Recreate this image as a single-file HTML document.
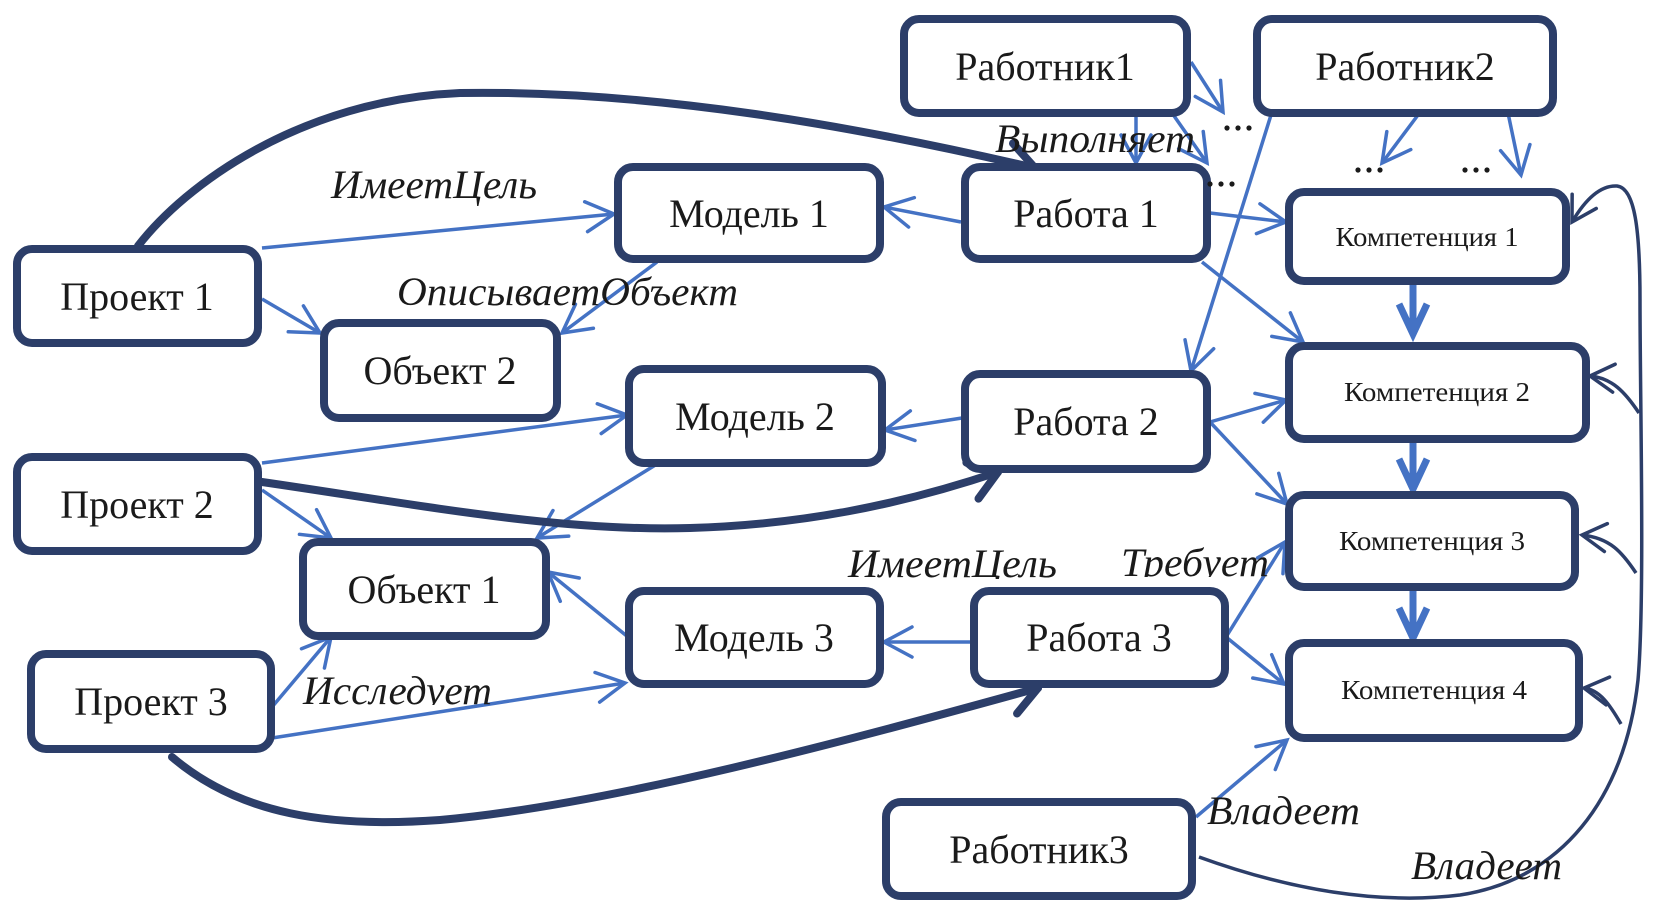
<!DOCTYPE html>
<html><head><meta charset="utf-8">
<style>
html,body{margin:0;padding:0;background:#fff;}
svg{display:block;}
.bx{fill:#fff;stroke:#2C3E69;stroke-width:8;}
.t{font-family:"Liberation Serif","DejaVu Serif",serif;font-size:40px;fill:#1a1a1a;text-anchor:middle;}
.k{font-family:"Liberation Serif","DejaVu Serif",serif;font-size:27px;fill:#1a1a1a;text-anchor:middle;}
.i{font-family:"Liberation Serif","DejaVu Serif",serif;font-style:italic;font-size:40px;fill:#1a1a1a;}
.bl{stroke:#4472C4;stroke-width:3.5;fill:none;marker-end:url(#mb);}
.nv{stroke:#2C3E69;stroke-width:8;fill:none;stroke-linecap:round;marker-end:url(#mn);}
.tb{stroke:#4472C4;stroke-width:7;fill:none;marker-end:url(#mt);}
.tn{stroke:#2C3E69;stroke-width:3;fill:none;}
.tna{stroke:#2C3E69;stroke-width:3.5;fill:none;marker-end:url(#ms);}
</style></head>
<body>
<svg width="1659" height="912" viewBox="0 0 1659 912" xmlns="http://www.w3.org/2000/svg">
<defs>
<marker id="mb" markerUnits="userSpaceOnUse" viewBox="-40 -20 44 40" markerWidth="44" markerHeight="40" refX="0" refY="0" orient="auto" overflow="visible">
<path d="M-28,-15 L0,0 L-28,15" fill="none" stroke="#4472C4" stroke-width="3.5" stroke-linecap="round"/>
</marker>
<marker id="mn" markerUnits="userSpaceOnUse" viewBox="-40 -25 44 50" markerWidth="44" markerHeight="50" refX="0" refY="0" orient="auto" overflow="visible">
<path d="M-27,-19 L0,0 L-27,19" fill="none" stroke="#2C3E69" stroke-width="8" stroke-linecap="round" stroke-linejoin="round"/>
</marker>
<marker id="mt" markerUnits="userSpaceOnUse" viewBox="-40 -25 44 50" markerWidth="44" markerHeight="50" refX="0" refY="0" orient="auto" overflow="visible">
<path d="M-30,-14 L0,0 L-30,14" fill="none" stroke="#4472C4" stroke-width="7" stroke-linejoin="miter"/>
</marker>
<marker id="ms" markerUnits="userSpaceOnUse" viewBox="-40 -25 44 50" markerWidth="44" markerHeight="50" refX="0" refY="0" orient="auto" overflow="visible">
<path d="M-24,-14 L0,0 L-24,14" fill="none" stroke="#2C3E69" stroke-width="3.5" stroke-linecap="round"/>
</marker>
<clipPath id="c1"><rect x="1100" y="530" width="200" height="47"/></clipPath>
<clipPath id="c2"><rect x="290" y="655" width="230" height="50"/></clipPath>
<clipPath id="c3"><rect x="830" y="530" width="260" height="49"/></clipPath>
</defs>

<!-- thin blue connectors -->
<line class="bl" x1="262" y1="248" x2="614" y2="214"/>
<line class="bl" x1="262" y1="299" x2="320" y2="333"/>
<line class="bl" x1="657" y1="262" x2="562" y2="333"/>
<line class="bl" x1="961" y1="222" x2="884" y2="207"/>
<line class="bl" x1="1136" y1="115" x2="1136" y2="163"/>
<line class="bl" x1="1191" y1="62" x2="1223" y2="112"/>
<line class="bl" x1="1172" y1="113" x2="1207" y2="163"/>
<line class="bl" x1="1418" y1="115" x2="1382" y2="163"/>
<line class="bl" x1="1508" y1="113" x2="1521" y2="175"/>
<line class="bl" x1="1271" y1="115" x2="1191" y2="371"/>
<line class="bl" x1="1210" y1="213" x2="1286" y2="222"/>
<line class="bl" x1="1202" y1="262" x2="1303" y2="342"/>
<line class="bl" x1="962" y1="418" x2="885" y2="430"/>
<line class="bl" x1="1210" y1="422" x2="1286" y2="400"/>
<line class="bl" x1="1210" y1="422" x2="1287" y2="504"/>
<line class="bl" x1="262" y1="463" x2="627" y2="415"/>
<line class="bl" x1="262" y1="490" x2="331" y2="538"/>
<line class="bl" x1="657" y1="464" x2="537" y2="538"/>
<line class="bl" x1="628" y1="637" x2="548" y2="572"/>
<line class="bl" x1="971" y1="642" x2="884" y2="642"/>
<line class="bl" x1="272" y1="707" x2="331" y2="637"/>
<line class="bl" x1="272" y1="738" x2="625" y2="683"/>
<line class="bl" x1="1226" y1="637" x2="1285" y2="542"/>
<line class="bl" x1="1226" y1="637" x2="1284" y2="684"/>
<line class="bl" x1="1196" y1="817" x2="1287" y2="740"/>

<!-- thick blue vertical arrows -->
<line class="tb" x1="1413" y1="285" x2="1413" y2="334"/>
<line class="tb" x1="1413" y1="441" x2="1413" y2="489"/>
<line class="tb" x1="1413" y1="590" x2="1413" y2="638"/>

<!-- thick navy curves -->
<path class="nv" d="M138,246 C185,185 300,100 460,93 C650,90 850,125 1035,168"/>
<path class="nv" d="M262,482 C420,505 560,532 690,528 C800,525 900,505 998,472"/>
<path class="nv" d="M172,757 C240,815 330,828 440,820 C610,805 850,740 1038,688"/>

<!-- right thin navy curve -->
<path class="tna" d="M1199,857 C1290,890 1380,905 1460,895 C1560,880 1625,800 1638,680 C1645,600 1640,400 1640,300 C1640,230 1635,188 1617,186 C1600,185 1585,200 1572,222"/>
<path class="tna" d="M1639,413 C1625,392 1612,378 1590,376"/>
<path class="tna" d="M1636,573 C1622,552 1610,538 1582,535"/>
<path class="tna" d="M1621,724 C1610,705 1600,690 1584,688"/>

<!-- boxes -->
<rect class="bx" x="904" y="19" width="283" height="94" rx="15"/>
<rect class="bx" x="1257" y="19" width="296" height="94" rx="15"/>
<rect class="bx" x="618" y="167" width="262" height="92" rx="15"/>
<rect class="bx" x="965" y="167" width="242" height="92" rx="15"/>
<rect class="bx" x="1289" y="192" width="277" height="89" rx="15"/>
<rect class="bx" x="17" y="249" width="241" height="94" rx="15"/>
<rect class="bx" x="324" y="323" width="233" height="95" rx="15"/>
<rect class="bx" x="629" y="369" width="253" height="94" rx="15"/>
<rect class="bx" x="965" y="374" width="242" height="95" rx="15"/>
<rect class="bx" x="1289" y="346" width="297" height="93" rx="15"/>
<rect class="bx" x="1289" y="495" width="286" height="92" rx="15"/>
<rect class="bx" x="17" y="457" width="241" height="94" rx="15"/>
<rect class="bx" x="303" y="542" width="243" height="94" rx="15"/>
<rect class="bx" x="629" y="591" width="251" height="93" rx="15"/>
<rect class="bx" x="974" y="591" width="251" height="93" rx="15"/>
<rect class="bx" x="1289" y="643" width="290" height="95" rx="15"/>
<rect class="bx" x="31" y="654" width="240" height="95" rx="15"/>
<rect class="bx" x="886" y="802" width="306" height="94" rx="15"/>

<!-- box labels -->
<text class="t" x="1045" y="80">Работник1</text>
<text class="t" x="1405" y="80">Работник2</text>
<text class="t" x="749" y="227">Модель 1</text>
<text class="t" x="1086" y="227">Работа 1</text>
<text class="k" x="1427" y="246" textLength="183" lengthAdjust="spacingAndGlyphs">Компетенция 1</text>
<text class="t" x="137" y="310">Проект 1</text>
<text class="t" x="440" y="384">Объект 2</text>
<text class="t" x="755" y="430">Модель 2</text>
<text class="t" x="1086" y="435">Работа 2</text>
<text class="k" x="1437" y="401" textLength="186" lengthAdjust="spacingAndGlyphs">Компетенция 2</text>
<text class="t" x="137" y="518">Проект 2</text>
<text class="k" x="1432" y="550" textLength="186" lengthAdjust="spacingAndGlyphs">Компетенция 3</text>
<text class="t" x="424" y="603">Объект 1</text>
<text class="t" x="754" y="651">Модель 3</text>
<text class="t" x="1099" y="651">Работа 3</text>
<text class="k" x="1434" y="699" textLength="186" lengthAdjust="spacingAndGlyphs">Компетенция 4</text>
<text class="t" x="151" y="715">Проект 3</text>
<text class="t" x="1039" y="863">Работник3</text>

<!-- ellipsis dots -->
<g fill="#1a1a1a">
<circle cx="1227" cy="128" r="2.6"/><circle cx="1238" cy="128" r="2.6"/><circle cx="1249" cy="128" r="2.6"/>
<circle cx="1210" cy="184" r="2.6"/><circle cx="1221" cy="184" r="2.6"/><circle cx="1232" cy="184" r="2.6"/>
<circle cx="1358" cy="170" r="2.6"/><circle cx="1369" cy="170" r="2.6"/><circle cx="1380" cy="170" r="2.6"/>
<circle cx="1465" cy="170" r="2.6"/><circle cx="1476" cy="170" r="2.6"/><circle cx="1487" cy="170" r="2.6"/>
</g>

<!-- italic relation labels -->
<text class="i" x="331" y="198" textLength="206" lengthAdjust="spacingAndGlyphs">ИмеетЦель</text>
<text class="i" x="397" y="305" textLength="341" lengthAdjust="spacingAndGlyphs">ОписываетОбъект</text>
<text class="i" x="995" y="152" textLength="200" lengthAdjust="spacingAndGlyphs">Выполняет</text>
<g clip-path="url(#c3)"><text class="i" x="848" y="577" textLength="209" lengthAdjust="spacingAndGlyphs">ИмеетЦель</text></g>
<g clip-path="url(#c1)"><text class="i" x="1121" y="576" textLength="148" lengthAdjust="spacingAndGlyphs">Требует</text></g>
<g clip-path="url(#c2)"><text class="i" x="303" y="704" textLength="189" lengthAdjust="spacingAndGlyphs">Исследует</text></g>
<text class="i" x="1207" y="824" textLength="153" lengthAdjust="spacingAndGlyphs">Владеет</text>
<text class="i" x="1411" y="879" textLength="151" lengthAdjust="spacingAndGlyphs">Владеет</text>
</svg>
</body></html>
